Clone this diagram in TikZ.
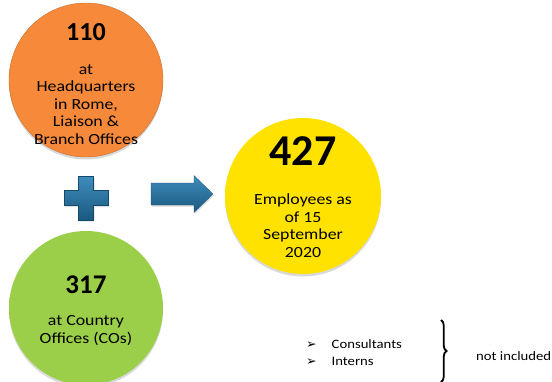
\documentclass[tikz,border=0pt]{standalone}
\usepackage{fontspec}
\setmainfont{Carlito}[FakeStretch=1.15]
\newfontfamily\numberfont{Carlito}
\newfontfamily\symbolfont{DejaVu Sans}
\usetikzlibrary{positioning}
\usetikzlibrary{shadows}
\usetikzlibrary{decorations.pathreplacing}

\definecolor{hqorange}{HTML}{F78A3A}
\definecolor{cogreen}{HTML}{9BCF49}
\definecolor{totalyellow}{HTML}{FFE200}
\definecolor{signblue}{HTML}{1E6996}
\definecolor{signlight}{HTML}{3F8CBE}

% flat fill with a slightly darker rim
\pgfdeclareradialshading{orangeball}{\pgfpoint{0bp}{0bp}}{%
  color(0bp)=(hqorange); color(44bp)=(hqorange); color(50bp)=(hqorange!88!black)}
\pgfdeclareradialshading{greenball}{\pgfpoint{0bp}{0bp}}{%
  color(0bp)=(cogreen); color(44bp)=(cogreen); color(50bp)=(cogreen!90!black)}
\pgfdeclareradialshading{yellowball}{\pgfpoint{0bp}{0bp}}{%
  color(0bp)=(totalyellow); color(40bp)=(totalyellow); color(50bp)=(totalyellow!80!orange!90!black)}

\tikzset {
  count circle/.style = {
    circle,
    minimum size = 154pt,
    inner sep = 0pt,
    drop shadow = {opacity = .3, shadow xshift = 0pt, shadow yshift = -2.5pt}
  },
  % the three figures
  hq/.style = {count circle, shading = orangeball, draw = hqorange!80!black, thin},
  co/.style = {count circle, shading = greenball},
  total/.style = {count circle, shading = yellowball, minimum size = 156pt},
  count text/.style = {
    align = center,
    inner sep = 0pt,
    font = \fontsize{15.5}{17.5}\selectfont
  },
  % bevelled blue signs
  sign/.style = {
    top color = signlight,
    bottom color = signblue!85!black,
    draw = signblue!70!black,
    very thin,
    drop shadow = {opacity = .25, shadow xshift = 1pt, shadow yshift = -1.5pt}
  },
  side note/.style = {font = \fontsize{12.8}{17}\selectfont, inner sep = 0pt}
}

\newcommand{\bignum}[2]{{\numberfont\fontsize{#1}{#1}\selectfont\bfseries #2}}
\newcommand{\arrowbullet}{{\symbolfont\fontsize{12.5}{12.5}\selectfont ➢}\hspace{15pt}}

\begin{document}
\begin{tikzpicture}[x=1pt, y=1pt]
  \useasboundingbox (0,0) rectangle (552,381);

  \node[hq] (hq) at (86,301) {};
  \node[co] (co) at (86,73) {};
  \node[total] (total) at (303,185) {};

  \node[count text] (hq-text) at ([yshift=-4pt]hq.center) {\bignum{26}{110}\\[16.5pt]
    at\\ Headquarters\\ in Rome,\\ Liaison \&\\ Branch Offices};
  \node[count text] (co-text) at ([yshift=-2.5pt]co.center) {\bignum{27}{317}\\[14.5pt]
    at Country\\ Offices (COs)};
  \node[count text] (total-text) at ([yshift=-1pt]total.center) {\bignum{44}{427}\\[22pt]
    Employees as\\ of 15\\ September\\ 2020};

  % plus sign between the two counts
  \coordinate (plus) at (86,183);
  \path[sign, shift = {(plus)}]
    (-7.5,22) -- (7.5,22) -- (7.5,7.5) -- (22,7.5) -- (22,-7.5)
    -- (7.5,-7.5) -- (7.5,-22) -- (-7.5,-22) -- (-7.5,-7.5)
    -- (-22,-7.5) -- (-22,7.5) -- (-7.5,7.5) -- cycle;

  % block arrow towards the total
  \coordinate (equals) at (182,187);
  \path[sign, shift = {(equals)}]
    (-31,11) -- (12,11) -- (12,18.5) -- (31,0) -- (12,-18.5)
    -- (12,-11) -- (-31,-11) -- cycle;

  % staff not counted
  \node[side note, align = left, anchor = west] (extras) at (306,28)
    {\arrowbullet Consultants\\ \arrowbullet Interns};
  \coordinate (brace-top) at (441,61);
  \coordinate (brace-bottom) at (441,-1);
  \draw[decorate, decoration = {brace, amplitude = 5.5pt}, line width = 1.8pt]
    (brace-top) -- (brace-bottom);
  \node[side note, anchor = west] (excluded) at (476,25) {not included};
\end{tikzpicture}
\end{document}
